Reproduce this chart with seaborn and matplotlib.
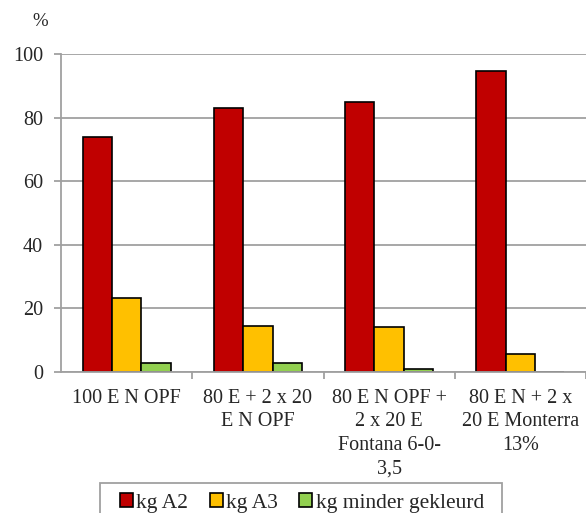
import matplotlib
matplotlib.use("Agg")
import matplotlib.pyplot as plt
from matplotlib.patches import Patch, Rectangle
import seaborn as sns
import pandas as pd

categories = [
    "100 E N OPF",
    "80 E + 2 x 20\nE N OPF",
    "80 E N OPF +\n2 x 20 E\nFontana 6-0-\n3,5",
    "80 E N + 2 x\n20 E Monterra\n13%",
]
series = ["kg A2", "kg A3", "kg minder gekleurd"]
kg_a2 = [74.0, 83.0, 85.0, 94.5]
kg_a3 = [23.3, 14.5, 14.3, 5.7]
kg_minder = [2.9, 2.8, 1.0, 0.0]
colors = ["#C00000", "#FFC000", "#92D050"]
y_ticks = [0, 20, 40, 60, 80, 100]

rows = []
for name, vals in zip(series, [kg_a2, kg_a3, kg_minder]):
    for cat, v in zip(categories, vals):
        rows.append({"categorie": cat, "reeks": name, "waarde": v})
df = pd.DataFrame(rows)

sns.set_style("white")
plt.rcParams["font.serif"] = ["Liberation Serif", "DejaVu Serif"]
plt.rcParams["font.family"] = ["serif"]
FS = 14.5
W, H = 586, 513

fig = plt.figure(figsize=(W / 100, H / 100), dpi=100)
ax = fig.add_axes([61 / W, 1 - 372 / H, 1 - 61 / W, (372 - 54) / H])

sns.barplot(data=df, x="categorie", y="waarde", hue="reeks", order=categories,
            hue_order=series, palette=colors, width=0.67, edgecolor="black",
            linewidth=1.2, ax=ax, legend=False, saturation=1)

grid_c = "#a0a0a0"
ax.set_ylim(0, 100)
ax.set_xlim(-0.5, 3.5)
ax.set_yticks(y_ticks)
ax.set_yticklabels([str(t) for t in y_ticks], family="Liberation Serif")
ax.yaxis.grid(True, color=grid_c, linewidth=1.3)
ax.set_axisbelow(True)
ax.set_xlabel("")
ax.set_ylabel("")

# category labels centred, tick marks between categories
ax.set_xticks([0.5, 1.5, 2.5, 3.5])
ax.set_xticklabels([])
ax.set_xticks([0, 1, 2, 3], minor=True)
ax.set_xticklabels(categories, minor=True, linespacing=1.33,
                   family="Liberation Serif")
ax.tick_params(axis="x", which="minor", length=0, pad=12, labelsize=FS)
ax.tick_params(axis="x", which="major", length=5, width=1.3, color=grid_c,
               direction="out", bottom=True)
ax.tick_params(axis="y", length=5, width=1.3, color=grid_c, left=True, pad=8,
               labelsize=FS)

for s in ["top", "right"]:
    ax.spines[s].set_visible(False)
for s in ["left", "bottom"]:
    ax.spines[s].set_color(grid_c)
    ax.spines[s].set_linewidth(1.3)

fig.text(40 / W, 1 - 21 / H, "%", fontsize=FS - 1, ha="center", va="center",
         family="Liberation Serif")

# legend frame, open at the bottom edge of the figure
fig.patches.append(Rectangle((100 / W, -0.02), (502 - 100) / W, 0.02 + (H - 483) / H,
                             transform=fig.transFigure, fill=False,
                             edgecolor=grid_c, linewidth=1.3))
handles = [Patch(facecolor=c, edgecolor="black", linewidth=1.2) for c in colors]
leg = fig.legend(handles, series, loc="center left",
                 bbox_to_anchor=(116 / W, 1 - 503 / H), ncol=3,
                 prop={"family": "Liberation Serif", "size": 15.5}, frameon=False,
                 handlelength=0.6, handleheight=0.6, handletextpad=0.15,
                 columnspacing=1.0, borderpad=0.2, borderaxespad=0)

fig.savefig("out.png", dpi=100)
